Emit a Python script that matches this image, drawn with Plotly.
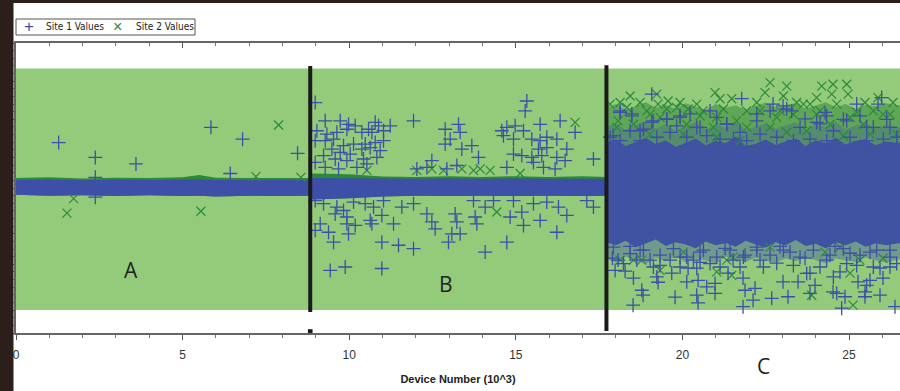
import plotly.graph_objects as go

BLUE = "#3D4FA6"
GREEN_MK = "#2B8A3A"
GREEN_BG = "#93CB7B"
DARK = "#2C1E1B"

# ---------------- data ----------------
series_names = ["Site 1 Values", "Site 2 Values"]

# dense band (regions A and B): envelope of the overlapping markers
ab_x = [0, 1, 2, 3, 4, 5, 5.5, 6, 7, 8, 8.8, 8.9, 10, 11, 12, 13, 14, 15, 16, 17, 17.72]
ab_green_top = [3.46, 3.48, 3.45, 3.47, 3.46, 3.48, 3.54, 3.47, 3.46, 3.47, 3.46,
                3.58, 3.56, 3.50, 3.49, 3.51, 3.49, 3.51, 3.49, 3.51, 3.49]
ab_blue_top = [3.41, 3.42, 3.40, 3.42, 3.41, 3.42, 3.43, 3.41, 3.41, 3.42, 3.41,
               3.46, 3.46, 3.45, 3.44, 3.45, 3.44, 3.45, 3.44, 3.45, 3.44]
ab_blue_bot = [3.02, 3.00, 3.01, 2.99, 3.01, 2.99, 3.00, 2.98, 3.00, 2.99, 3.00,
               2.90, 2.93, 2.98, 3.00, 2.99, 3.00, 2.99, 3.00, 2.99, 3.00]

# dense cloud (region C)
c_x = [17.72, 18.0, 18.3, 18.6, 18.9, 19.2, 19.5, 19.8, 20.1, 20.4, 20.7, 21.0, 21.3, 21.6, 21.9,
       22.2, 22.5, 22.8, 23.1, 23.4, 23.7, 24.0, 24.3, 24.6, 24.9, 25.2, 25.5, 25.8, 26.1, 26.53]
c_green_top = [5.30, 5.40, 5.25, 5.35, 5.45, 5.30, 5.38, 5.28, 5.42, 5.33, 5.25, 5.40, 5.30, 5.36, 5.26,
               5.35, 5.44, 5.30, 5.38, 5.42, 5.28, 5.36, 5.45, 5.32, 5.40, 5.28, 5.38, 5.34, 5.42, 5.36]
c_blue_outer_top = [4.80, 4.90, 4.72, 4.85, 4.95, 4.75, 4.88, 4.70, 4.82, 4.92, 4.74, 4.86, 4.78, 4.94, 4.72,
                    4.80, 4.90, 4.76, 4.84, 4.92, 4.72, 4.86, 4.80, 4.94, 4.74, 4.84, 4.90, 4.76, 4.86, 4.80]
c_blue_top = [4.40, 4.48, 4.30, 4.42, 4.52, 4.35, 4.45, 4.28, 4.40, 4.50, 4.32, 4.44, 4.38, 4.55, 4.30,
              4.36, 4.47, 4.33, 4.42, 4.50, 4.30, 4.45, 4.38, 4.52, 4.34, 4.44, 4.48, 4.32, 4.42, 4.38]
c_blue_bot = [1.78, 1.70, 1.82, 1.65, 1.75, 1.85, 1.68, 1.78, 1.72, 1.62, 1.80, 1.70, 1.76, 1.66, 1.82,
              1.72, 1.64, 1.78, 1.70, 1.84, 1.68, 1.74, 1.62, 1.78, 1.70, 1.80, 1.66, 1.75, 1.70, 1.76]
c_blue_outer_bot = [1.35, 1.25, 1.40, 1.30, 1.20, 1.38, 1.28, 1.42, 1.25, 1.35, 1.30, 1.22, 1.40, 1.32, 1.26,
                    1.38, 1.30, 1.24, 1.36, 1.28, 1.40, 1.30, 1.22, 1.35, 1.30, 1.26, 1.38, 1.30, 1.25, 1.34]

# Site 1 outliers
s1_a_x = [1.28, 2.38, 3.60, 5.85, 6.80, 8.45, 6.43, 2.38, 2.38]
s1_a_y = [4.39, 4.00, 3.83, 4.79, 4.48, 4.11, 3.58, 2.96, 3.48]

s1_b_up_x = [8.98, 9.28, 9.73, 9.98, 10.18, 10.78, 10.88, 11.23, 10.58, 9.03, 9.33, 9.63, 9.93,
             10.38, 10.68, 11.03, 8.98, 9.28, 9.53, 9.83, 10.13, 10.48, 10.78, 11.03, 9.48,
             9.73, 10.03, 10.38, 10.63, 10.93, 9.23, 9.58, 9.93, 10.43, 10.83, 8.98, 9.28,
             9.68, 10.23, 10.53, 11.93, 12.88, 13.33, 13.28, 13.03, 12.88, 13.38, 13.68,
             13.88, 12.48, 12.33, 12.03, 13.23, 12.93, 15.33, 15.28, 14.58, 14.73, 14.98,
             15.23, 15.73, 16.33, 14.63, 14.93, 15.48, 15.73, 15.93, 16.23, 15.68, 15.93,
             16.53, 14.93, 15.18, 15.48, 15.78, 16.23, 16.48, 16.78, 17.33, 14.73, 15.53,
             16.18, 15.83]
s1_b_up_y = [5.44, 4.96, 4.96, 4.87, 4.83, 4.92, 4.83, 4.83, 4.74, 4.70, 4.61, 4.66, 4.74,
             4.66, 4.66, 4.70, 4.44, 4.44, 4.48, 4.31, 4.35, 4.35, 4.39, 4.44, 4.22,
             4.13, 4.09, 4.22, 4.26, 4.18, 4.05, 3.96, 3.92, 3.96, 4.00, 3.87, 3.74,
             3.70, 3.74, 3.83, 4.96, 4.74, 4.66, 4.87, 4.48, 4.35, 4.22, 4.31,
             4.00, 3.92, 3.74, 3.70, 3.79, 3.70, 5.48, 5.22, 4.70, 4.79, 4.83,
             4.70, 4.87, 4.96, 4.57, 4.48, 4.48, 4.44, 4.53, 4.48, 4.22, 4.26,
             4.22, 4.09, 4.05, 4.00, 4.05, 4.00, 3.92, 4.66, 3.96, 3.74, 3.87,
             3.70, 3.74]

s1_b_lo_x = [8.98, 9.23, 9.63, 9.83, 10.13, 10.48, 10.73, 11.03, 9.58, 9.93, 10.63, 10.98,
             9.13, 9.38, 9.93, 10.18, 10.68, 11.33, 8.98, 9.98, 9.53, 10.98, 11.48, 11.93,
             9.43, 9.88, 10.98, 12.33, 12.58, 12.48, 13.08, 12.98, 13.33, 13.18, 13.23,
             13.78, 13.83, 14.08, 14.73, 14.83, 15.18, 15.23, 15.73, 16.23, 16.53, 17.13,
             17.33, 14.93, 15.53, 15.93, 16.28, 11.93, 11.58, 13.73, 14.33, 14.08]
s1_b_lo_y = [2.87, 2.79, 2.70, 2.61, 2.83, 2.79, 2.70, 2.87, 2.52, 2.44, 2.35, 2.48,
             2.26, 2.04, 2.26, 2.22, 2.26, 2.26, 2.09, 2.00, 1.78, 1.78, 1.70, 1.61,
             1.04, 1.13, 1.09, 2.52, 2.13, 2.31, 2.00, 1.78, 2.00, 2.52, 2.31,
             2.44, 2.26, 1.52, 1.78, 2.44, 2.57, 2.22, 2.35, 2.04, 2.48, 2.87,
             2.70, 2.87, 2.79, 2.83, 2.70, 2.79, 2.70, 2.87, 2.87, 2.70]

s1_c_up_x = [19.08, 20.23, 20.83, 21.78, 18.13, 18.48, 19.12, 19.53, 19.93, 21.33, 18.73,
             17.92, 20.53, 22.72, 23.02, 23.28, 25.23, 25.98, 25.87, 24.28, 24.93, 23.68,
             22.23, 24.13, 26.23, 25.53,
             18.13, 18.48, 18.83, 18.43, 19.08, 19.53, 19.93, 20.43, 21.33, 21.73, 21.93,
             17.83, 18.13, 18.73, 19.23, 19.63, 20.13, 20.73, 21.13, 21.53, 19.83, 21.03,
             22.63, 23.13, 23.53, 24.03, 24.53, 24.83, 25.33, 25.73, 26.13, 26.43, 22.33,
             22.83, 23.33, 23.83, 24.33, 25.03, 25.53, 26.03, 22.23, 24.33]
s1_c_up_y = [5.66, 5.14, 5.22, 5.54, 5.22, 5.14, 4.96, 5.01, 5.05, 4.88, 4.70,
             4.57, 4.79, 5.40, 5.35, 5.22, 5.40, 5.57, 5.40, 5.18, 4.96, 5.01,
             5.14, 4.88, 4.79, 4.79,
             5.18, 5.09, 4.74, 4.70, 4.92, 5.00, 5.09, 4.79, 4.87, 4.66, 4.44,
             4.53, 4.44, 4.44, 4.53, 4.66, 4.53, 4.57, 4.48, 4.48, 4.83, 5.05,
             5.22, 5.27, 4.79, 4.92, 4.70, 5.00, 5.09, 4.79, 5.00, 4.53, 4.61,
             4.53, 4.44, 4.48, 4.44, 4.53, 4.44, 4.48, 4.96, 5.09]

s1_c_lo_x = [17.98, 18.28, 18.53, 18.78, 18.82, 18.52, 19.23, 19.27, 19.63, 19.68, 19.78,
             20.13, 20.17, 20.47, 20.43, 20.47, 20.73, 20.98, 20.98, 21.37, 21.52, 21.82,
             21.88, 21.82, 19.93, 19.03, 18.07, 18.43, 20.43, 21.13, 22.18, 22.12, 22.68,
             23.17, 23.02, 23.47, 23.83, 23.98, 23.83, 24.63, 24.73, 24.52, 24.88, 24.78,
             25.27, 25.48, 25.63, 25.93, 25.93, 26.38, 22.33, 22.83, 24.33, 25.23, 26.23,
             25.03, 23.23, 22.23, 25.48, 25.53, 26.02, 18.73, 20.53, 21.88, 23.68, 25.63,
             17.90, 19.33, 21.28, 22.93, 24.58, 26.23, 20.53,
             17.93, 18.43, 18.83, 19.33, 19.73, 20.13, 20.63, 21.03, 21.43, 21.83, 18.23,
             19.13, 19.93, 20.83, 21.73, 18.63, 20.33, 22.23, 22.63, 23.03, 23.53, 23.93,
             24.43, 24.83, 25.33, 25.83, 26.23, 22.43, 23.33, 24.13, 24.93, 25.73, 26.43,
             23.73, 24.53]
s1_c_lo_y = [1.04, 1.02, 0.84, 0.52, 0.39, 0.13, 0.87, 0.73, 1.31, 0.97, 0.34,
             0.74, 1.10, 0.78, 0.39, 0.19, 0.61, 0.70, 0.44, 0.97, 1.31, 0.84,
             0.52, 0.09, 1.39, 1.31, 1.31, 1.67, 1.10, 1.13, 0.57, 0.26, 0.31,
             0.35, 0.74, 0.74, 0.97, 0.65, 0.44, 0.44, 1.00, 0.48, 0.35, 0.05,
             0.74, 0.48, 0.78, 0.39, 1.10, 0.09, 1.31, 1.23, 1.31, 1.17, 1.13,
             1.49, 1.52, 1.57, 0.35, 0.65, 0.84, 1.57, 1.52, 1.44, 1.36, 1.52,
             1.36, 1.17, 1.62, 1.67, 1.67, 1.57, 1.25,
             1.65, 1.48, 1.57, 1.44, 1.61, 1.39, 1.57, 1.39, 1.57, 1.39, 1.22,
             1.13, 1.13, 1.22, 1.13, 1.31, 1.31, 1.65, 1.44, 1.57, 1.39, 1.57,
             1.44, 1.61, 1.44, 1.57, 1.39, 1.13, 1.17, 1.13, 1.22, 1.13, 1.22,
             0.96, 0.87]

# Site 2 outliers
s2_a_x = [7.88, 1.73, 1.53, 5.55, 7.20, 8.55]
s2_a_y = [4.85, 2.92, 2.54, 2.59, 3.50, 3.48]

s2_b_x = [16.78, 14.43, 13.38, 13.93, 14.23, 12.48, 12.83, 13.73, 12.03, 15.13, 10.53]
s2_b_y = [4.92, 2.57, 3.70, 3.70, 3.66, 3.70, 3.66, 3.66, 3.66, 3.58, 3.66]

s2_c_x = [18.43, 18.13, 18.73, 19.27, 19.57, 19.93, 20.43, 20.98, 21.13, 21.48, 19.23,
          19.53, 20.17, 20.62, 21.93, 18.07, 19.03, 21.03, 22.63, 23.13, 22.48, 24.18,
          24.52, 24.93, 24.48, 24.97, 25.87, 22.23, 23.43, 23.83, 25.48, 26.32, 22.93,
          24.13, 25.23, 26.02,
          17.83, 18.33, 18.93, 18.53, 19.33, 19.83, 20.13, 20.53, 20.93, 21.23, 21.63,
          21.93, 18.03, 19.03, 20.03, 21.03, 21.73, 22.33, 22.83, 23.33, 23.63, 24.03,
          24.63, 24.43, 25.03, 25.43, 25.73, 26.23, 22.63, 23.13, 23.73, 24.83, 25.63,
          26.43, 24.03, 23.03,
          18.78, 19.33, 21.03, 21.48, 18.13, 21.52, 23.88, 25.12, 24.28, 25.03, 26.02,
          18.53, 20.03, 21.33, 22.63, 24.73, 25.33]
s2_c_y = [5.61, 5.44, 5.44, 5.40, 5.48, 5.44, 5.40, 5.70, 5.54, 5.54, 5.66,
          5.27, 5.27, 5.22, 5.22, 4.96, 5.13, 5.05, 5.96, 5.87, 5.70, 5.87,
          5.92, 5.92, 5.66, 5.66, 5.57, 5.44, 5.44, 5.40, 5.44, 5.44, 5.22,
          5.22, 5.18, 5.13,
          5.40, 5.31, 5.22, 4.87, 5.05, 5.31, 4.87, 5.09, 4.79, 5.27, 4.96,
          4.79, 4.79, 4.61, 4.61, 4.53, 4.44, 5.22, 5.05, 5.13, 5.40, 5.13,
          5.40, 4.87, 5.05, 4.87, 5.22, 5.13, 4.79, 4.66, 4.70, 4.57, 4.61,
          4.61, 5.57, 5.61,
          1.31, 1.04, 1.00, 0.91, 1.31, 1.39, 0.39, 0.13, 1.52, 0.97, 1.36,
          1.31, 1.52, 1.31, 1.65, 1.65, 1.31]

dividers = [8.83, 17.72]
region_labels = ["A", "B", "C"]

# ---------------- figure ----------------
fig = go.Figure()


def band(x, top, bot, color):
    fig.add_trace(go.Scatter(
        x=list(x) + list(x)[::-1], y=list(top) + list(bot)[::-1],
        fill="toself", fillcolor=color, mode="lines", line=dict(width=0),
        hoverinfo="skip", showlegend=False))


# region C cloud
band(c_x, c_green_top, c_blue_bot, "rgba(34,122,44,0.46)")
band(c_x, c_blue_outer_top, c_blue_top, "rgba(61,79,166,0.30)")
band(c_x, c_blue_bot, c_blue_outer_bot, "rgba(61,79,166,0.40)")
band(c_x, c_blue_top, c_blue_bot, "rgba(61,79,166,0.96)")
# region A/B band
band(ab_x, ab_green_top, ab_blue_bot, GREEN_MK)
band(ab_x, ab_blue_top, ab_blue_bot, BLUE)

s2x = s2_a_x + s2_b_x + s2_c_x
s2y = s2_a_y + s2_b_y + s2_c_y
s1x = s1_a_x + s1_b_up_x + s1_b_lo_x + s1_c_up_x + s1_c_lo_x
s1y = s1_a_y + s1_b_up_y + s1_b_lo_y + s1_c_up_y + s1_c_lo_y

fig.add_trace(go.Scatter(
    x=s2x, y=s2y, mode="markers", name=series_names[1], showlegend=False,
    marker=dict(symbol="x-thin", size=9, line=dict(color=GREEN_MK, width=1.2), color=GREEN_MK)))
fig.add_trace(go.Scatter(
    x=s1x, y=s1y, mode="markers", name=series_names[0], showlegend=False,
    marker=dict(symbol="cross-thin", size=10, line=dict(color=BLUE, width=1.3), color=BLUE)))

PW, PH = 884.0, 290.0  # plot area size in px (for paper-fraction placement of decorations)

shapes = [
    # green background band
    dict(type="rect", xref="paper", yref="y", x0=0, x1=1, y0=0, y1=6.33,
         fillcolor=GREEN_BG, line=dict(width=0), layer="below"),
    # dark frame strips
    dict(type="rect", xref="paper", yref="paper", x0=-16 / PW, x1=-2.5 / PW, y0=-58 / PH, y1=1 + 43 / PH,
         fillcolor=DARK, line=dict(width=0), layer="above"),
    dict(type="rect", xref="paper", yref="paper", x0=-16 / PW, x1=1, y0=1 + 40 / PH, y1=1 + 43 / PH,
         fillcolor=DARK, line=dict(width=0), layer="above"),
    # divider lines
    dict(type="line", xref="x", yref="y", x0=dividers[0], x1=dividers[0], y0=6.40, y1=-0.05,
         line=dict(color="#1B1B1B", width=4)),
    dict(type="line", xref="x", yref="y", x0=dividers[1], x1=dividers[1], y0=6.42, y1=-0.55,
         line=dict(color="#1B1B1B", width=4)),
    dict(type="rect", xref="x", yref="y", x0=dividers[0] - 0.07, x1=dividers[0] + 0.07, y0=-0.6, y1=-0.5,
         fillcolor="#1B1B1B", line=dict(width=0)),
    # legend box
    dict(type="rect", xref="paper", yref="paper", x0=0, x1=179 / PW, y0=1 + 8 / PH, y1=1 + 24 / PH,
         fillcolor="white", line=dict(color="#555", width=1)),
]

LEG_Y = 1 + 16 / PH
LEGFONT = "Liberation Sans Narrow, DejaVu Sans Condensed, Liberation Sans, sans-serif"
annotations = [
    dict(x=3.46, y=1.04, xref="x", yref="y", text=region_labels[0], showarrow=False,
         font=dict(family="Open Sans", size=21, color="#222")),
    dict(x=12.91, y=0.68, xref="x", yref="y", text=region_labels[1], showarrow=False,
         font=dict(family="Open Sans", size=21, color="#222")),
    dict(x=22.42, y=-0.114, xref="x", yref="paper", yanchor="middle", text=region_labels[2],
         showarrow=False, font=dict(family="Open Sans", size=21, color="#222")),
    # legend entries
    dict(x=13 / PW, y=LEG_Y, xref="paper", yref="paper", text="+", showarrow=False,
         xanchor="center", yanchor="middle",
         font=dict(family="Liberation Sans", size=17, color=BLUE)),
    dict(x=28 / PW, y=LEG_Y, xref="paper", yref="paper", text=series_names[0], showarrow=False,
         xanchor="left", yanchor="middle", font=dict(family=LEGFONT, size=10, color="#222")),
    dict(x=101 / PW, y=LEG_Y, xref="paper", yref="paper", text="×", showarrow=False,
         xanchor="center", yanchor="middle",
         font=dict(family="Liberation Sans", size=16, color=GREEN_MK)),
    dict(x=118 / PW, y=LEG_Y, xref="paper", yref="paper", text=series_names[1], showarrow=False,
         xanchor="left", yanchor="middle", font=dict(family=LEGFONT, size=10, color="#222")),
]

NARROW = "Liberation Sans Narrow, Arial Narrow, Liberation Sans, sans-serif"

fig.update_layout(
    width=900, height=391,
    margin=dict(l=16, r=0, t=43, b=58),
    paper_bgcolor="white", plot_bgcolor="white",
    shapes=shapes, annotations=annotations,
    showlegend=False,
    xaxis=dict(range=[0, 26.53], dtick=5, tick0=0, showgrid=False, zeroline=False,
               showline=True, linecolor="#666", linewidth=1.5,
               ticks="outside", ticklen=5, tickwidth=1, tickcolor="#555",
               ticklabelstandoff=5,
               minor=dict(dtick=1, ticks="outside", ticklen=3, tickcolor="#777", showgrid=False),
               tickfont=dict(family=NARROW, size=12, color="#333"),
               title=dict(text="<b>Device Number (10^3)</b>", standoff=14,
                          font=dict(family=NARROW, size=11, color="#222"))),
    yaxis=dict(range=[-0.6, 7.0], dtick=1, tick0=0, showgrid=False, zeroline=False,
               showline=True, linecolor="#666", linewidth=1.5, showticklabels=False,
               ticks="outside", ticklen=4, tickwidth=1, tickcolor="#555",
               minor=dict(dtick=0.2, ticks="outside", ticklen=2, tickcolor="#777", showgrid=False)),
    xaxis2=dict(range=[0, 26.53], overlaying="x", side="top", dtick=5, tick0=0,
                showgrid=False, zeroline=False, showline=True, linecolor="#666", linewidth=1.5,
                ticks="inside", ticklen=5, tickcolor="#555", showticklabels=False,
                minor=dict(dtick=1, ticks="inside", ticklen=3, tickcolor="#777", showgrid=False)),
)

# invisible trace to activate the top axis
fig.add_trace(go.Scatter(x=[0], y=[0], xaxis="x2", mode="markers", marker=dict(opacity=0),
                         showlegend=False, hoverinfo="skip"))

fig.write_html("out.html", config={"displayModeBar": False},
               post_script="document.body.style.margin='0';")
